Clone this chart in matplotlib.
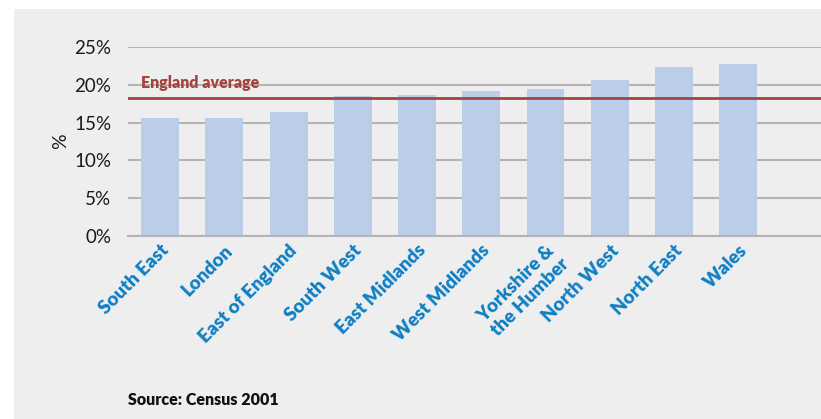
import matplotlib
matplotlib.use("Agg")
import matplotlib.pyplot as plt
from matplotlib.patches import Rectangle

# --- data ---
regions = ["South East", "London", "East of England", "South West",
           "East Midlands", "West Midlands", "Yorkshire &\nthe Humber",
           "North West", "North East", "Wales"]
values = [15.6, 15.6, 16.4, 18.5, 18.7, 19.2, 19.5, 20.7, 22.3, 22.7]
england_average = 18.3
y_ticks = [0, 5, 10, 15, 20, 25]
source_note = "Source: Census 2001"

BG = "#eeeeee"
BAR = "#bccdea"
RED = "#a5443e"
BLUE = "#0e7fc4"
GRID = "#b4b4b4"

plt.rcParams["font.family"] = ["Lato", "DejaVu Sans"]

fig = plt.figure(figsize=(8.21, 4.19), dpi=100)
fig.patch.set_facecolor("white")
fig.patches.append(Rectangle((14 / 821, 0), 1, 1 - 9 / 419,
                             transform=fig.transFigure, facecolor=BG,
                             edgecolor="none", zorder=-10))

ax = fig.add_axes([128 / 821, 1 - 236 / 419, 1 - 128 / 821, (236 - 47) / 419])
ax.set_facecolor(BG)
ax.patch.set_alpha(0)

x = range(len(regions))
ax.bar(x, values, width=0.59, color=BAR, zorder=2)
ax.axhline(england_average, color=RED, lw=2, zorder=3)
ax.text(-0.3, 19.55, "England average", color=RED, fontsize=11.5,
        fontweight="heavy", va="baseline", ha="left", zorder=4)

ax.set_ylim(0, 25)
ax.set_xlim(-0.5, 10.29)
ax.set_yticks(y_ticks)
ax.set_yticklabels([f"{t}%" for t in y_ticks], fontsize=13.5, color="#1a1a1a")
ax.yaxis.grid(True, color=GRID, lw=1.5, zorder=1)
ax.set_axisbelow(True)
ax.tick_params(axis="both", length=0)
ax.tick_params(axis="y", pad=12)

ax.set_xticks(list(x))
ax.set_xticklabels(regions, rotation=45, ha="right", va="top",
                   rotation_mode="anchor", fontsize=13.5, fontweight="heavy",
                   color=BLUE, multialignment="right")
ax.tick_params(axis="x", pad=4)

for s in ["top", "right", "left"]:
    ax.spines[s].set_visible(False)
ax.spines["bottom"].set_color(GRID)
ax.spines["bottom"].set_linewidth(1.5)

ax.set_ylabel("%", fontsize=14, color="#1a1a1a", labelpad=4)

fig.text(128 / 821, 1 - 405 / 419, source_note, fontsize=11.5,
         fontweight="heavy", color="#111111", va="baseline", ha="left")

fig.savefig("out.png", dpi=100, facecolor=fig.get_facecolor())
